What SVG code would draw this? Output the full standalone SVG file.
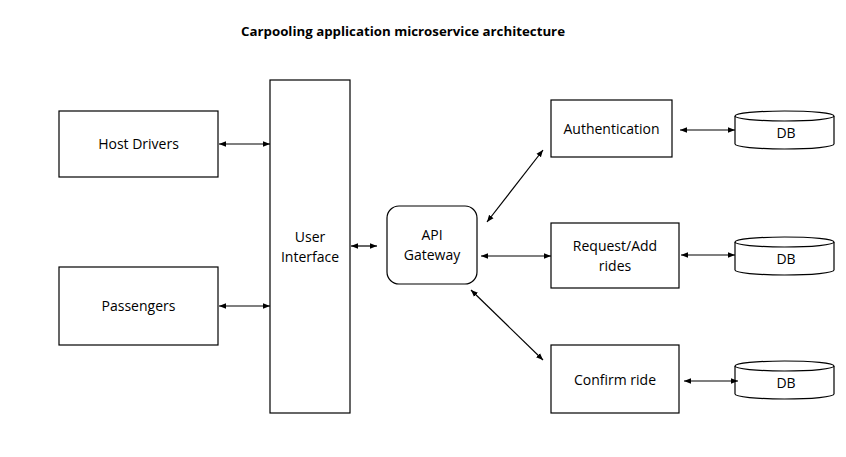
<svg xmlns="http://www.w3.org/2000/svg" width="846" height="457" viewBox="0 0 846 457">
<defs>
<marker id="ah" viewBox="0 0 10 10" refX="10" refY="5" markerWidth="7" markerHeight="7" markerUnits="userSpaceOnUse" orient="auto-start-reverse">
<path d="M0,1 L10,5 L0,9 z" fill="#000"/>
</marker>
<style>
.box{fill:#fff;stroke:#000;stroke-width:1.2}
.lbl{font-family:"Open Sans","Noto Sans",sans-serif;font-size:14px;fill:#000;text-anchor:middle}
.con{stroke:#000;stroke-width:1.2;fill:none;marker-start:url(#ah);marker-end:url(#ah)}
</style>
</defs>
<rect width="846" height="457" fill="#fff"/>
<text x="403" y="36" style="font-family:'Open Sans','Noto Sans',sans-serif;font-size:13px;font-weight:bold;text-anchor:middle" textLength="324" lengthAdjust="spacingAndGlyphs">Carpooling application microservice architecture</text>

<g id="host-drivers"><rect class="box" x="59" y="111" width="159" height="66"/><text class="lbl" x="138.5" y="149">Host Drivers</text></g>
<g id="passengers"><rect class="box" x="59" y="267" width="159" height="78"/><text class="lbl" x="138.5" y="311">Passengers</text></g>
<g id="user-interface"><rect class="box" x="270" y="80" width="80" height="333"/><text class="lbl" x="310" y="242">User</text><text class="lbl" x="310" y="262">Interface</text></g>
<g id="api-gateway"><rect class="box" x="387" y="206" width="90" height="78" rx="12"/><text class="lbl" x="432" y="240">API</text><text class="lbl" x="432" y="260">Gateway</text></g>
<g id="authentication"><rect class="box" x="551" y="100" width="121" height="57"/><text class="lbl" x="611.5" y="134">Authentication</text></g>
<g id="request-add"><rect class="box" x="551" y="223" width="128" height="65"/><text class="lbl" x="615" y="251">Request/Add</text><text class="lbl" x="615" y="271">rides</text></g>
<g id="confirm-ride"><rect class="box" x="551" y="345" width="128" height="68"/><text class="lbl" x="615" y="385">Confirm ride</text></g>

<g id="db1"><path class="box" d="M735,116 L735,144 A49.5,5 0 0 0 834,144 L834,116"/><ellipse class="box" cx="784.5" cy="116" rx="49.5" ry="5"/><text class="lbl" x="786" y="138">DB</text></g>
<g id="db2"><path class="box" d="M735,242 L735,270 A49.5,5 0 0 0 834,270 L834,242"/><ellipse class="box" cx="784.5" cy="242" rx="49.5" ry="5"/><text class="lbl" x="786" y="264">DB</text></g>
<g id="db3"><path class="box" d="M735,366 L735,394 A49.5,5 0 0 0 834,394 L834,366"/><ellipse class="box" cx="784.5" cy="366" rx="49.5" ry="5"/><text class="lbl" x="786" y="388">DB</text></g>

<g id="connectors">
<line class="con" x1="219" y1="144" x2="270" y2="144"/>
<line class="con" x1="219" y1="306" x2="270" y2="306"/>
<line class="con" x1="351" y1="246" x2="377" y2="246"/>
<line class="con" x1="487" y1="222" x2="543" y2="150"/>
<line class="con" x1="481" y1="256" x2="551" y2="256"/>
<line class="con" x1="471" y1="290" x2="543" y2="360"/>
<line class="con" x1="680" y1="130" x2="735" y2="130"/>
<line class="con" x1="681" y1="255" x2="735" y2="255"/>
<line class="con" x1="684" y1="381" x2="738" y2="381"/>
</g>
</svg>
